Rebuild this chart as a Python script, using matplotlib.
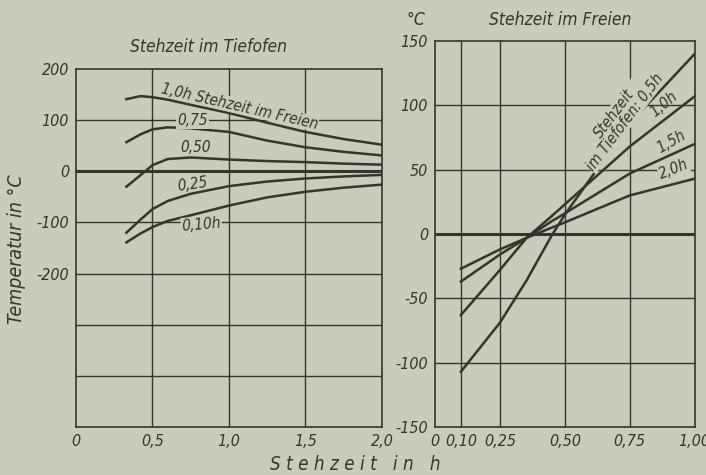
import numpy as np
from matplotlib import pyplot as plt
import matplotlib as mpl

# left panel: Stehzeit im Tiefofen (h) -> temperature, one curve per Stehzeit im Freien
tief_x = [0.33, 0.42, 0.5, 0.6, 0.75, 1.0, 1.25, 1.5, 1.75, 2.0]
frei_10 = [141, 147, 145, 140, 130, 114, 95, 77, 63, 52]
frei_075 = [57, 72, 82, 86, 84, 77, 60, 47, 38, 31]
frei_050 = [-30, -8, 12, 24, 27, 23, 20, 18, 15, 13]
frei_025 = [-120, -95, -74, -58, -44, -29, -20, -14, -10, -7]
frei_010 = [-139, -122, -109, -97, -86, -67, -51, -40, -32, -26]

# right panel: Stehzeit im Freien (h) -> temperature, one curve per Stehzeit im Tiefofen
frei_x = [0.10, 0.25, 0.353, 0.45, 0.5, 0.75, 1.0]
tief_05 = [-107, -69, -36, -1, 15, 86, 140]
tief_10 = [-63, -28, -3, 14, 23, 68, 107]
tief_15 = [-37, -16, -3, 10, 16, 47, 70]
tief_20 = [-27, -12, -3, 5, 9, 30, 43]

left_xticks = [0, 0.5, 1.0, 1.5, 2.0]
left_xlabels = ['0', '0,5', '1,0', '1,5', '2,0']
left_yticks = [200, 100, 0, -100, -200]
left_ylabels = ['200', '100', '0', '-100', '-200']
right_xticks = [0, 0.10, 0.25, 0.50, 0.75, 1.00]
right_xlabels = ['0', '0,10', '0,25', '0,50', '0,75', '1,00']
right_yticks = [150, 100, 50, 0, -50, -100, -150]
right_ylabels = ['150', '100', '50', '0', '-50', '-100', '-150']

PAPER = '#c9cbbe'
INK = '#35352b'

mpl.rcParams.update({
    'font.family': ['DejaVu Sans'],
    'font.style': 'italic',
    'font.stretch': 'condensed',
    'font.size': 11,
    'axes.edgecolor': INK,
    'axes.linewidth': 1.2,
    'text.color': INK,
    'xtick.color': INK,
    'ytick.color': INK,
})

fig = plt.figure(figsize=(7.06, 4.75), dpi=100)
fig.patch.set_facecolor(PAPER)

ax1 = fig.add_axes([0.1076, 0.101, 0.4334, 0.7537])
ax2 = fig.add_axes([0.616, 0.101, 0.368, 0.8127])

for ax in (ax1, ax2):
    ax.set_facecolor(PAPER)
    ax.tick_params(length=0, pad=5, labelsize=11.5)

# ---- left panel
ax1.set_xlim(0, 2.0)
ax1.set_ylim(-500, 200)
for gx in [0.5, 1.0, 1.5]:
    ax1.axvline(gx, color=INK, lw=1.0, zorder=1)
for gy in [100, -100, -200, -300, -400]:
    ax1.axhline(gy, color=INK, lw=1.0, zorder=1)
ax1.axhline(0, color=INK, lw=2.2, zorder=1)

for ys in [frei_10, frei_075, frei_050, frei_025, frei_010]:
    ax1.plot(tief_x, ys, color=INK, lw=1.8, zorder=3)

ax1.set_xticks(left_xticks)
ax1.set_xticklabels(left_xlabels)
ax1.set_yticks(left_yticks)
ax1.set_yticklabels(left_ylabels)

lbl = dict(color=INK, fontsize=11, ha='center', va='center', zorder=4)
ax1.text(1.07, 127, '1,0h Stehzeit im Freien', rotation=-13,
         bbox=dict(fc=PAPER, ec='none', pad=0.2), **lbl)
ax1.text(0.76, 100, '0,75', bbox=dict(fc=PAPER, ec='none', pad=1), **lbl)
ax1.text(0.78, 47, '0,50', **lbl)
ax1.text(0.76, -25, '0,25', rotation=8, **lbl)
ax1.text(0.82, -104, '0,10h', rotation=5,
         bbox=dict(fc=PAPER, ec='none', pad=0.5), **lbl)

fig.text(0.296, 0.901, 'Stehzeit im Tiefofen', ha='center', va='center', fontsize=12.5)
fig.text(0.024, 0.475, 'Temperatur in °C', rotation=90, ha='center', va='center', fontsize=14)

# ---- right panel
ax2.set_xlim(0, 1.0)
ax2.set_ylim(-150, 150)
for gx in [0.10, 0.25, 0.50, 0.75]:
    ax2.axvline(gx, color=INK, lw=1.0, zorder=1)
for gy in [100, 50, -50, -100]:
    ax2.axhline(gy, color=INK, lw=1.0, zorder=1)
ax2.axhline(0, color=INK, lw=2.2, zorder=1)

for ys in [tief_05, tief_10, tief_15, tief_20]:
    ax2.plot(frei_x, ys, color=INK, lw=1.8, zorder=3)

ax2.set_xticks(right_xticks)
ax2.set_xticklabels(right_xlabels)
ax2.set_yticks(right_yticks)
ax2.set_yticklabels(right_ylabels)

ax2.text(0.71, 90, 'Stehzeit\nim Tiefofen: 0,5h', rotation=53, linespacing=0.9,
         bbox=dict(fc=PAPER, ec='none', pad=0.2), **lbl)
ax2.text(0.88, 101, '1,0h', rotation=40, **lbl)
ax2.text(0.91, 72, '1,5h', rotation=30, **lbl)
ax2.text(0.92, 50, '2,0h', rotation=22,
         bbox=dict(fc=PAPER, ec='none', pad=0.3), **lbl)

fig.text(0.589, 0.958, '°C', ha='center', va='center', fontsize=12.5)
fig.text(0.793, 0.958, 'Stehzeit im Freien', ha='center', va='center', fontsize=12.5)

fig.text(0.503, 0.022, 'S t e h z e i t   i n   h', ha='center', va='center', fontsize=13.5)

fig.savefig('out.png', dpi=100, facecolor=PAPER)
